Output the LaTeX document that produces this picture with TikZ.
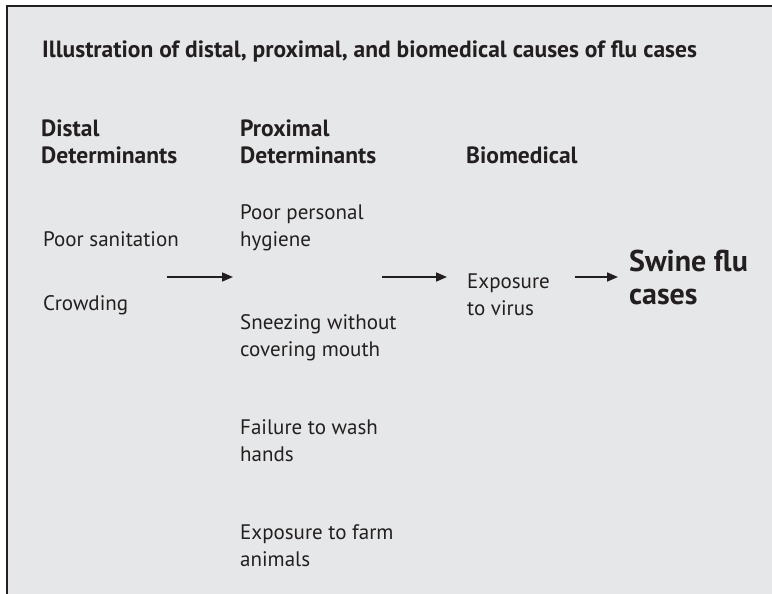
\documentclass[tikz,border=0pt]{standalone}
\usepackage{fontspec}
\setmainfont{PT Sans}
\usetikzlibrary{arrows.meta}
\definecolor{panelgray}{HTML}{E6E7E8}
\definecolor{inkdark}{HTML}{231F20}
\begin{document}
\begin{tikzpicture}[x=1pt,y=-1pt,
  txt/.style={anchor=base west,inner sep=0pt,align=left,text=inkdark,
    font=\fontsize{21}{27}\selectfont},
  head/.style={txt,font=\fontsize{23.5}{27}\selectfont\bfseries},
  big/.style={txt,font=\fontsize{30}{33}\selectfont\bfseries},
  flow/.style={draw=inkdark,line width=1.6pt,-{Triangle[length=11pt,width=9pt]}}]
\useasboundingbox (0,0) rectangle (772,594);
\fill[white] (0,0) rectangle (772,594);
\fill[panelgray] (7,6) rectangle (772,594);
\draw[inkdark,line width=2.2pt] (7,600) -- (7,6) -- (780,6);

% multi-line nodes: base anchor = baseline of the last line
\node[head] (title) at (42,58) {Illustration of distal, proximal, and biomedical causes of flu cases};

\node[head] (hdist) at (41,163) {Distal\\Determinants};
\node[head] (hprox) at (240,163) {Proximal\\Determinants};
\node[head] (hbio) at (466,163) {Biomedical};

\node[txt] (d1) at (43,246) {Poor sanitation};
\node[txt] (d2) at (43,310) {Crowding};

\node[txt] (p1) at (240,246) {Poor personal\\hygiene};
\node[txt] (p2) at (240,356) {Sneezing without\\covering mouth};
\node[txt] (p3) at (240,461) {Failure to wash\\hands};
\node[txt] (p4) at (240,566) {Exposure to farm\\animals};

\node[txt] (bio) at (467,315) {Exposure\\to virus};
\node[big] (out) at (629,304) {Swine flu\\cases};

\coordinate (a1s) at (167,277);
\coordinate (a1e) at (233,277);
\coordinate (a2s) at (382,277);
\coordinate (a2e) at (447,277);
\coordinate (a3s) at (575,277);
\coordinate (a3e) at (618,277);
\draw[flow] (a1s) -- (a1e);
\draw[flow] (a2s) -- (a2e);
\draw[flow] (a3s) -- (a3e);
\end{tikzpicture}
\end{document}
